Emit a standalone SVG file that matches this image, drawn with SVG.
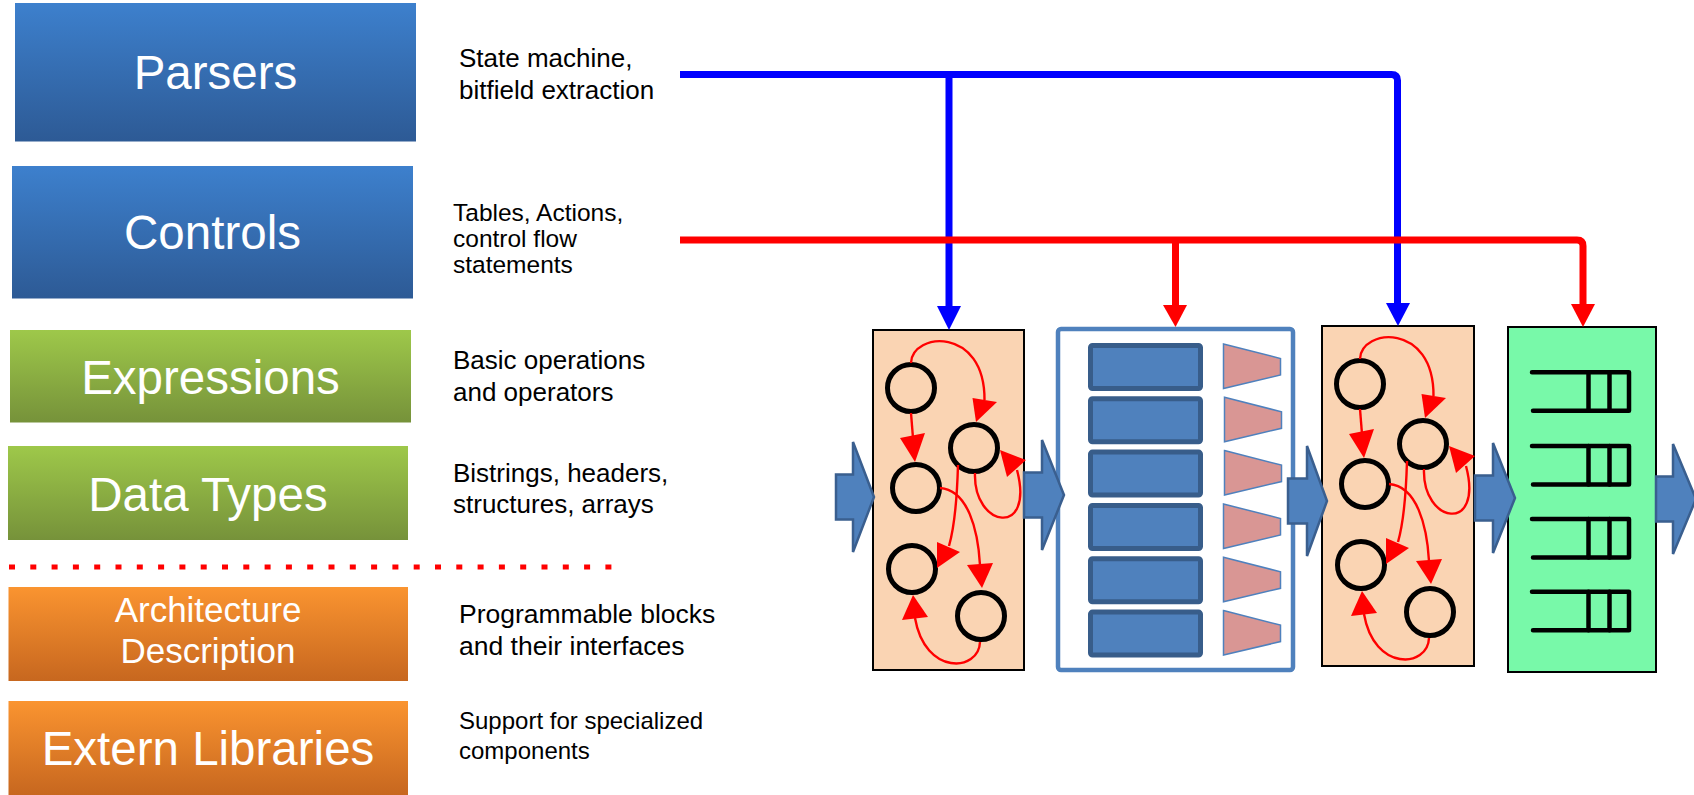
<svg xmlns="http://www.w3.org/2000/svg" xmlns:xlink="http://www.w3.org/1999/xlink" width="1694" height="795" viewBox="0 0 1694 795">
<style>
.lbl{font-family:"Liberation Sans",Arial,sans-serif;fill:#fff;text-anchor:middle}
.big{font-size:47.5px}
.mid{font-size:35px}
.desc{font-family:"Liberation Sans",Arial,sans-serif;fill:#000}
.st{fill:none;stroke:#000;stroke-width:5}
.ra{fill:none;stroke:#f00;stroke-width:2.4}
.rh{fill:#f00}
.barrow{fill:#4f81bd;stroke:#3a5f8f;stroke-width:2.5;stroke-linejoin:miter}
.row{fill:#4f81bd;stroke:#385d8a;stroke-width:5}
.trap{fill:#d99694;stroke:#4f81bd;stroke-width:1.5}
.q{fill:none;stroke:#000;stroke-width:4.5;stroke-linejoin:round;stroke-linecap:round}
.blue{fill:none;stroke:#00f;stroke-width:7}
.red{fill:none;stroke:#f00;stroke-width:7}
</style>
<defs>
<linearGradient id="gBlue" x1="0" y1="0" x2="0" y2="1"><stop offset="0" stop-color="#3d80cd"/><stop offset="1" stop-color="#2d5a95"/></linearGradient>
<linearGradient id="gGreen" x1="0" y1="0" x2="0" y2="1"><stop offset="0" stop-color="#9ec84a"/><stop offset="1" stop-color="#76923a"/></linearGradient>
<linearGradient id="gOrange" x1="0" y1="0" x2="0" y2="1"><stop offset="0" stop-color="#fa9430"/><stop offset="1" stop-color="#c7671f"/></linearGradient>
<g id="fsm">
<circle class="st" cx="38" cy="58" r="23.5"/>
<circle class="st" cx="101" cy="118" r="23.5"/>
<circle class="st" cx="43" cy="158" r="23.5"/>
<circle class="st" cx="39" cy="239" r="23.5"/>
<circle class="st" cx="108" cy="286" r="23.5"/>
<path class="ra" d="M38,33 C39,2 112,-4 111.5,70"/>
<polygon class="rh" points="99.5,68 124,72 103,92"/>
<path class="ra" d="M38,83 L40,108"/>
<polygon class="rh" points="27,108 52,103 42,132"/>
<path class="ra" d="M102,143 C100,198 162,208 144,140"/>
<polygon class="rh" points="127,120 134,147 153,130"/>
<path class="ra" d="M85,135 C84,170 82,195 76,216"/>
<polygon class="rh" points="64,212 87,222 64,238"/>
<path class="ra" d="M67,158 C95,160 105,200 107,235"/>
<polygon class="rh" points="94,235 120,233 109,258"/>
<path class="ra" d="M107,312 C106,342 52,346 42,288"/>
<polygon class="rh" points="29,290 55,287 40,265"/>
</g>
<g id="qicon">
<path class="q" d="M1532,0 H1629 V38.5 H1533"/>
<path class="q" d="M1588.5,0 V38.5 M1609.5,0 V38.5"/>
</g>
</defs>

<g id="node-parsers">
<rect x="15" y="3" width="401" height="138.5" fill="url(#gBlue)"/>
<text class="lbl big" x="215.5" y="89">Parsers</text>
</g>
<g id="node-controls">
<rect x="12" y="166" width="401" height="132.5" fill="url(#gBlue)"/>
<text class="lbl big" x="212.5" y="249">Controls</text>
</g>
<g id="node-expressions">
<rect x="10" y="330" width="401" height="92.5" fill="url(#gGreen)"/>
<text class="lbl big" x="210.5" y="394">Expressions</text>
</g>
<g id="node-datatypes">
<rect x="8" y="446" width="400" height="94" fill="url(#gGreen)"/>
<text class="lbl big" x="208" y="511">Data Types</text>
</g>
<g id="separator">
<line x1="9" y1="567" x2="624" y2="567" stroke="#f00" stroke-width="5" stroke-dasharray="6 15.3"/>
</g>
<g id="node-arch">
<rect x="8.5" y="587" width="399.5" height="94" fill="url(#gOrange)"/>
<text class="lbl mid" x="208" y="622">Architecture</text>
<text class="lbl mid" x="208" y="663">Description</text>
</g>
<g id="node-extern">
<rect x="8.5" y="701" width="399.5" height="94" fill="url(#gOrange)"/>
<text class="lbl big" x="208" y="765">Extern Libraries</text>
</g>

<g id="desc-parsers" class="desc" font-size="26">
<text x="459" y="67">State machine,</text>
<text x="459" y="99">bitfield extraction</text>
</g>
<g id="desc-controls" class="desc" font-size="24.5">
<text x="453" y="221">Tables, Actions,</text>
<text x="453" y="247">control flow</text>
<text x="453" y="273">statements</text>
</g>
<g id="desc-expressions" class="desc" font-size="26">
<text x="453" y="369">Basic operations</text>
<text x="453" y="401">and operators</text>
</g>
<g id="desc-datatypes" class="desc" font-size="26">
<text x="453" y="482">Bistrings, headers,</text>
<text x="453" y="513">structures, arrays</text>
</g>
<g id="desc-arch" class="desc" font-size="26.5">
<text x="459" y="623">Programmable blocks</text>
<text x="459" y="655">and their interfaces</text>
</g>
<g id="desc-extern" class="desc" font-size="24">
<text x="459" y="729">Support for specialized</text>
<text x="459" y="759">components</text>
</g>

<g id="block-parser1">
<rect x="873" y="330" width="151" height="340" fill="#fad4b3" stroke="#000" stroke-width="2"/>
<use xlink:href="#fsm" x="873" y="330"/>
</g>
<g id="block-tables">
<rect x="1058" y="329" width="235" height="341" rx="3" fill="#fff" stroke="#4f81bd" stroke-width="4.5"/>
<rect class="row" x="1090.5" y="345.5" width="110" height="43" rx="2"/>
<rect class="row" x="1090.5" y="398.8" width="110" height="43" rx="2"/>
<rect class="row" x="1090.5" y="452.1" width="110" height="43" rx="2"/>
<rect class="row" x="1090.5" y="505.5" width="110" height="43" rx="2"/>
<rect class="row" x="1090.5" y="558.8" width="110" height="43" rx="2"/>
<rect class="row" x="1090.5" y="612.1" width="110" height="43" rx="2"/>
<polygon class="trap" points="1223.5,344 1280.5,358.5 1280.5,375 1223.5,388.5"/>
<polygon class="trap" points="1224.5,397.3 1281.5,411.8 1281.5,428.3 1224.5,441.8"/>
<polygon class="trap" points="1224.5,450.6 1281.5,465.1 1281.5,481.6 1224.5,495.1"/>
<polygon class="trap" points="1223.5,504 1280.5,518.5 1280.5,535 1223.5,548.5"/>
<polygon class="trap" points="1223.5,557.3 1280.5,571.8 1280.5,588.3 1223.5,601.8"/>
<polygon class="trap" points="1223.5,610.6 1280.5,625.1 1280.5,641.6 1223.5,655.1"/>
</g>
<g id="block-parser2">
<rect x="1322" y="326" width="152" height="340" fill="#fad4b3" stroke="#000" stroke-width="2"/>
<use xlink:href="#fsm" x="1322" y="326"/>
</g>
<g id="block-queues">
<rect x="1508" y="327" width="148" height="345" fill="#78f9a9" stroke="#000" stroke-width="2"/>
<use xlink:href="#qicon" y="372.3"/>
<use xlink:href="#qicon" y="446"/>
<use xlink:href="#qicon" y="519"/>
<use xlink:href="#qicon" y="591.7"/>
</g>

<g id="flow-arrows">
<path class="barrow" d="M836,474.5 H853 V442 L874,497 L853,552 V519.5 H836 Z"/>
<path class="barrow" d="M1024,472.5 H1042 V440 L1064,495 L1042,550 V517.5 H1024 Z"/>
<path class="barrow" d="M1288,478.5 H1307 V446 L1327,501 L1307,556 V523.5 H1288 Z"/>
<path class="barrow" d="M1475,475.5 H1493 V443 L1515,498 L1493,553 V520.5 H1475 Z"/>
<path class="barrow" d="M1656,476.5 H1673 V444 L1696,499 L1673,554 V521.5 H1656 Z"/>
</g>

<g id="connectors">
<path class="blue" d="M680,74.5 H1391.5 Q1397.5,74.5 1397.5,80.5 V306"/>
<path class="blue" d="M949,74.5 V308"/>
<polygon fill="#00f" points="937,306 961,306 949,330"/>
<polygon fill="#00f" points="1386,303 1410,303 1398,326"/>
<path class="red" d="M680,240 H1577 Q1583,240 1583,246 V306"/>
<path class="red" d="M1175.5,240 V307"/>
<polygon fill="#f00" points="1163,305 1187,305 1175.5,327"/>
<polygon fill="#f00" points="1571,304 1595,304 1583,327"/>
</g>
</svg>
